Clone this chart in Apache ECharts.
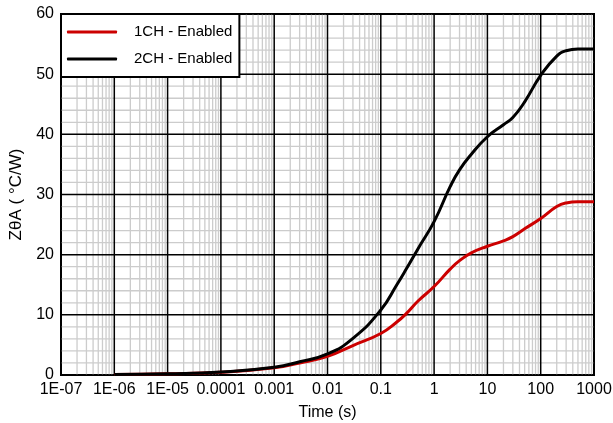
<!DOCTYPE html>
<html>
<head>
<meta charset="utf-8">
<script src="https://cdn.jsdelivr.net/npm/echarts@6/dist/echarts.min.js"></script>
<style>
  html, body { margin: 0; padding: 0; background: #fff; }
  #chart { width: 613px; height: 423px; }
</style>
</head>
<body>
<div id="chart"></div>
<script>
// time points (s)
const timeList = [1e-6, 1e-5, 1e-4, 1e-3, 3e-3, 0.01, 0.03, 0.1, 0.2, 0.3, 0.5, 1, 2, 3, 5, 10, 20, 30, 50, 100, 200, 300, 500, 1000];
// ZθA values (°C/W)
const oneChList = [0.1, 0.2, 0.45, 1.2, 2.0, 3.1, 4.9, 6.9, 8.8, 10.2, 12.3, 14.7, 17.6, 19.0, 20.3, 21.4, 22.3, 23.0, 24.3, 26.0, 28.0, 28.6, 28.8, 28.8];
const twoChList = [0.1, 0.2, 0.5, 1.3, 2.2, 3.5, 6.1, 10.8, 15.0, 17.6, 21.0, 25.5, 31.3, 34.1, 36.7, 39.6, 41.6, 42.8, 45.4, 49.8, 53.0, 53.9, 54.2, 54.2];
const seriesNames = ['1CH - Enabled', '2CH - Enabled'];
const xTickLabels = ['1E-07', '1E-06', '1E-05', '0.0001', '0.001', '0.01', '0.1', '1', '10', '100', '1000'];

const X_MIN = 1e-7, X_MAX = 1000, Y_MIN = 0, Y_MAX = 60;

// grid lines (log decades + 2..9 minors, y every 2)
let minorLines = [];
let majorLines = [];
for (let e = -7; e <= 3; e++) {
  const d = Math.pow(10, e);
  majorLines.push([d, 0, 0]);
  if (e < 3) {
    for (let k = 2; k <= 9; k++) minorLines.push([k * d, 0, 0]);
  }
}
for (let y = Y_MIN; y <= Y_MAX; y += 2) {
  if (y % 10 === 0) majorLines.push([1, y, 1]);
  else minorLines.push([1, y, 1]);
}

function gridRender(color, width) {
  return function (params, api) {
    const kind = api.value(2);
    let p1, p2;
    if (kind === 0) {
      p1 = api.coord([api.value(0), Y_MIN]);
      p2 = api.coord([api.value(0), Y_MAX]);
    } else {
      p1 = api.coord([X_MIN, api.value(1)]);
      p2 = api.coord([X_MAX, api.value(1)]);
    }
    return {
      type: 'line',
      shape: { x1: p1[0], y1: p1[1], x2: p2[0], y2: p2[1] },
      style: { stroke: color, lineWidth: width }
    };
  };
}

const chart = echarts.init(document.getElementById('chart'));
chart.setOption({
  animation: false,
  backgroundColor: '#fff',
  textStyle: { fontFamily: 'Liberation Sans, Arial, sans-serif' },
  grid: {
    left: 61, right: 19, top: 14, bottom: 48,
    outerBoundsMode: 'none',
    containLabel: false,
    show: true, borderColor: '#000', borderWidth: 2, backgroundColor: '#fff'
  },
  legend: {
    data: seriesNames,
    orient: 'vertical',
    left: 61, top: 14,
    backgroundColor: '#fff',
    borderColor: '#000',
    borderWidth: 2,
    borderRadius: 0,
    padding: [10, 7, 10, 6],
    itemGap: 11,
    itemWidth: 50,
    itemHeight: 3,
    icon: 'roundRect',
    textStyle: { fontSize: 15, color: '#000', lineHeight: 16, padding: [0, 0, 0, 12] }
  },
  xAxis: {
    type: 'log',
    logBase: 10,
    min: X_MIN,
    max: X_MAX,
    interval: 1,
    name: 'Time (s)',
    nameLocation: 'middle',
    nameGap: 30,
    nameTextStyle: { fontSize: 16, color: '#000' },
    axisLine: { show: false },
    axisTick: { show: false },
    splitLine: { show: false },
    axisLabel: {
      fontSize: 16, color: '#000', margin: 7, hideOverlap: false,
      formatter: function (v) {
        const idx = Math.round(Math.log10(v)) + 7;
        return xTickLabels[idx] || '';
      }
    }
  },
  yAxis: {
    type: 'value',
    min: Y_MIN,
    max: Y_MAX,
    interval: 10,
    name: 'ZθA ( °C/W)',
    nameLocation: 'middle',
    nameGap: 34,
    nameTextStyle: { fontSize: 17, color: '#000' },
    axisLine: { show: false },
    axisTick: { show: false },
    splitLine: { show: false },
    axisLabel: { fontSize: 16, color: '#000', margin: 7 }
  },
  series: [
    {
      type: 'custom',
      silent: true,
      z: 1,
      data: minorLines,
      renderItem: gridRender('#cccccc', 1.3)
    },
    {
      type: 'custom',
      silent: true,
      z: 1.5,
      data: majorLines,
      renderItem: gridRender('#000000', 1.5)
    },
    {
      name: seriesNames[0],
      type: 'line',
      z: 3,
      smooth: 0.5,
      showSymbol: false,
      color: '#cc0000',
      lineStyle: { width: 3, color: '#cc0000' },
      data: timeList.map((t, i) => [t, oneChList[i]])
    },
    {
      name: seriesNames[1],
      type: 'line',
      z: 3,
      smooth: 0.5,
      showSymbol: false,
      color: '#000000',
      lineStyle: { width: 3, color: '#000000' },
      data: timeList.map((t, i) => [t, twoChList[i]])
    }
  ]
});
</script>
</body>
</html>
